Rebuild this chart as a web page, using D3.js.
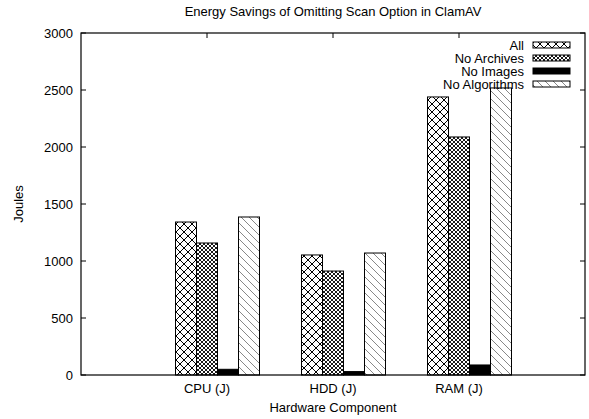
<!DOCTYPE html>
<html>
<head>
<meta charset="utf-8">
<script src="https://cdn.jsdelivr.net/npm/d3@7"></script>
<style>
  body { margin: 0; background: #fff; }
  text { font-family: "Liberation Sans", Arial, Helvetica, sans-serif; font-size: 13px; fill: #000; }
</style>
</head>
<body>
<script>
var categories = ["CPU (J)", "HDD (J)", "RAM (J)"];
var seriesNames = ["All", "No Archives", "No Images", "No Algorithms"];
var allVals = [1342, 1053, 2439];
var noArchives = [1158, 912, 2088];
var noImages = [50, 30, 88];
var noAlgorithms = [1386, 1070, 2518];
var yTicks = [0, 500, 1000, 1500, 2000, 2500, 3000];

var series = [allVals, noArchives, noImages, noAlgorithms];
var fills = ["url(#p1)", "url(#p2)", "#000", "url(#p5)"];

var width = 589, height = 419;
var plotL = 81, plotR = 585, plotT = 33, plotB = 375;

var svg = d3.select("body").append("svg")
  .attr("width", width)
  .attr("height", height);

var defs = svg.append("defs");

// big cross hatch
var p1 = defs.append("pattern").attr("id", "p1")
  .attr("patternUnits", "userSpaceOnUse").attr("width", 8).attr("height", 8);
p1.append("rect").attr("width", 8).attr("height", 8).attr("fill", "#fff");
p1.append("path").attr("d", "M0,0L8,8M8,0L0,8").attr("stroke", "#000").attr("stroke-width", 1);

// dense cross hatch
var p2 = defs.append("pattern").attr("id", "p2")
  .attr("patternUnits", "userSpaceOnUse").attr("width", 4).attr("height", 4);
p2.append("rect").attr("width", 4).attr("height", 4).attr("fill", "#fff");
p2.append("path").attr("d", "M0,0L4,4M4,0L0,4").attr("stroke", "#000").attr("stroke-width", 0.9);

// sparse back slash lines
var p5 = defs.append("pattern").attr("id", "p5")
  .attr("patternUnits", "userSpaceOnUse").attr("width", 8).attr("height", 8);
p5.append("rect").attr("width", 8).attr("height", 8).attr("fill", "#fff");
p5.append("path").attr("d", "M0,0L8,8M-4,4L4,12M4,-4L12,4").attr("stroke", "#555").attr("stroke-width", 0.7);

var x = d3.scaleLinear().domain([-1, 3]).range([plotL, plotR]);
var y = d3.scaleLinear().domain([0, 3000]).range([plotB, plotT]);

// ticks (gnuplot style, inward, mirrored)
var ty = svg.append("g");
yTicks.forEach(function(v) {
  ty.append("line").attr("x1", plotL).attr("x2", plotL + 5)
    .attr("y1", y(v)).attr("y2", y(v)).attr("stroke", "#000");
  ty.append("line").attr("x1", plotR).attr("x2", plotR - 5)
    .attr("y1", y(v)).attr("y2", y(v)).attr("stroke", "#000");
  ty.append("text").attr("x", plotL - 8).attr("y", y(v) + 4.5)
    .attr("text-anchor", "end").text(v);
});

categories.forEach(function(c, i) {
  svg.append("line").attr("x1", x(i)).attr("x2", x(i))
    .attr("y1", plotT).attr("y2", plotT + 5).attr("stroke", "#000");
  svg.append("line").attr("x1", x(i)).attr("x2", x(i))
    .attr("y1", plotB).attr("y2", plotB - 5).attr("stroke", "#000");
  svg.append("text").attr("x", x(i)).attr("y", plotB + 18)
    .attr("text-anchor", "middle").text(c);
});

// bars
var bw = 1 / 6;
series.forEach(function(vals, j) {
  svg.append("g").selectAll("rect")
    .data(vals)
    .enter().append("rect")
      .attr("x", function(d, i) { return x(i + (j - 1.5) * bw); })
      .attr("width", x(bw) - x(0))
      .attr("y", function(d) { return y(d); })
      .attr("height", function(d) { return y(0) - y(d); })
      .attr("fill", fills[j])
      .attr("stroke", "#000")
      .attr("stroke-width", 1);
});

// border
svg.append("rect")
  .attr("x", plotL).attr("y", plotT)
  .attr("width", plotR - plotL).attr("height", plotB - plotT)
  .attr("fill", "none").attr("stroke", "#000").attr("stroke-width", 1.2);

// legend
var lg = svg.append("g");
seriesNames.forEach(function(name, j) {
  var ly = 45 + j * 13;
  lg.append("text").attr("x", 524).attr("y", ly + 4.5)
    .attr("text-anchor", "end").text(name);
  lg.append("rect").attr("x", 533).attr("y", ly - 3)
    .attr("width", 37).attr("height", 6)
    .attr("fill", fills[j]).attr("stroke", "#000");
});

// titles
svg.append("text").attr("x", (plotL + plotR) / 2).attr("y", 16)
  .attr("text-anchor", "middle").text("Energy Savings of Omitting Scan Option in ClamAV");
svg.append("text").attr("x", (plotL + plotR) / 2).attr("y", 412)
  .attr("text-anchor", "middle").text("Hardware Component");
svg.append("text")
  .attr("transform", "translate(23," + (plotT + plotB) / 2 + ") rotate(-90)")
  .attr("text-anchor", "middle").text("Joules");
</script>
</body>
</html>
